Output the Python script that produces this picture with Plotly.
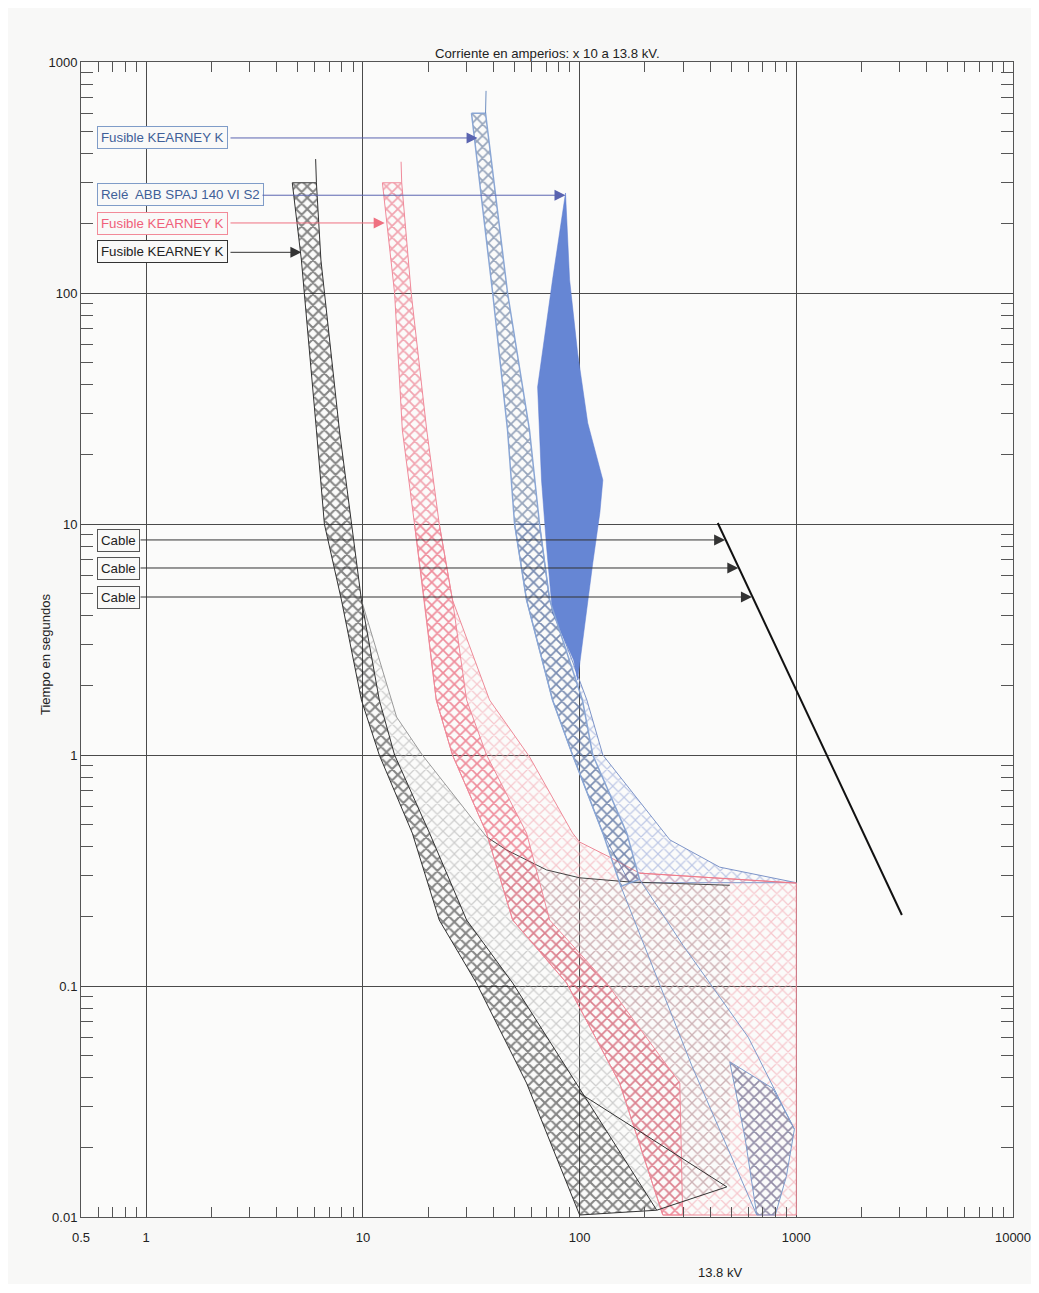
import math
import plotly.graph_objects as go

# ---------------- data (current in A x10, time in s) ----------------
# Black fuse band: minimum melting (left edge) / total clearing (right edge)
black_min_x = [4.72, 5.2, 6.1, 6.64, 7.96, 9.84, 11.9, 16.9, 22.5, 33.4, 56.9, 100]
black_min_t = [300, 139, 25.5, 10, 4.69, 1.73, 1.0, 0.459, 0.193, 0.103, 0.038, 0.0102]
black_clr_x = [6.1, 6.4, 7.79, 8.85, 9.84, 11.9, 14.0, 20.3, 30.1, 49.1, 80, 227]
black_clr_t = [300, 139, 25.5, 10, 4.69, 1.73, 1.0, 0.459, 0.193, 0.103, 0.05, 0.0107]
black_ext_x = [6.1, 6.05]
black_ext_t = [300, 380]
black_low_x = [100, 478, 227]
black_low_t = [0.0344, 0.0135, 0.0107]

# Pink fuse band
pink_min_x = [12.3, 14.0, 15.2, 17.3, 19.2, 21.8, 25.9, 37.2, 49.1, 87.1, 153, 242]
pink_min_t = [300, 100, 25.5, 10, 4.69, 1.73, 1.0, 0.459, 0.193, 0.103, 0.038, 0.0102]
pink_clr_x = [15.1, 16.7, 19.7, 22.5, 25.9, 30.1, 37.2, 56.9, 72.7, 133, 290, 299]
pink_clr_t = [300, 100, 25.5, 10, 4.69, 1.73, 1.0, 0.459, 0.193, 0.103, 0.038, 0.0102]
pink_ext_x = [15.1, 15.0]
pink_ext_t = [300, 370]

# Blue fuse band (upper part, dense)
blue_min_x = [31.7, 39.7, 46.5, 50.1, 56.9, 75, 92.8, 128, 155]
blue_min_t = [600, 100, 25.5, 10, 4.69, 1.73, 1.0, 0.459, 0.27]
blue_clr_x = [36.8, 46.5, 58.7, 65.3, 72.7, 103, 115, 165, 189]
blue_clr_t = [600, 100, 25.5, 10, 4.69, 1.73, 1.0, 0.459, 0.29]
blue_ext_x = [36.8, 37.0]
blue_ext_t = [600, 750]
# Blue fuse band continuation below 0.3 s (edges) and its dense tail
blue_low_min_x = [155, 330, 657]
blue_low_min_t = [0.27, 0.045, 0.0102]
blue_low_clr_x = [189, 300, 600, 980]
blue_low_clr_t = [0.29, 0.15, 0.06, 0.024]
blue_tail_x = [493, 780, 980, 900, 800, 657, 580]
blue_tail_t = [0.047, 0.036, 0.024, 0.015, 0.0102, 0.0102, 0.022]

# Lighter zones to the right of each fuse band
gray_top_x = [9.84, 11.9, 14.3, 18.8, 37.2, 46, 70.4, 100, 170, 493, 493]
gray_top_t = [4.69, 2.6, 1.46, 1.0, 0.442, 0.388, 0.318, 0.294, 0.282, 0.273, 0.0135]
pinkL_x = [22.5, 25.9, 38.4, 58.8, 92.8, 100, 138, 189, 1000, 1000]
pinkL_t = [10, 4.69, 1.73, 0.98, 0.459, 0.42, 0.361, 0.308, 0.279, 0.0102]
blueL_x = [65.3, 72.7, 108, 128, 261, 443, 1000, 170]
blueL_t = [10, 4.69, 1.73, 1.0, 0.429, 0.327, 0.28, 0.28]

# Relay ABB SPAJ 140 VI S2 operating zone
relay_x = [86.1, 89.9, 97.9, 109, 128, 124, 115, 103, 97.9, 93.8, 75.0, 70.4, 66.7, 64.0, 75.0]
relay_t = [271, 114, 55, 27.4, 15.5, 11.2, 6.78, 2.94, 2.11, 2.58, 4.12, 7.94, 15.5, 39.2, 114]

# Cable damage curve
cable_x = [434, 3070]
cable_t = [10.1, 0.203]

# Labels and the points their arrows reach
label_texts = ["Fusible KEARNEY K", "Relé  ABB SPAJ 140 VI S2", "Fusible KEARNEY K",
               "Fusible KEARNEY K", "Cable", "Cable", "Cable"]
label_tip_x = [33.8, 86.1, 12.6, 5.2, 469.5, 540, 624]
label_tip_t = [469, 265, 201, 150, 8.53, 6.45, 4.83]

x_ticks = [0.5, 1, 10, 100, 1000, 10000]
x_ticktext = ["0.5", "1", "10", "100", "1000", "10000"]
y_ticks = [0.01, 0.1, 1, 10, 100, 1000]
y_ticktext = ["0.01", "0.1", "1", "10", "100", "1000"]

# ---------------- layout geometry (page pixels) ----------------
BODY = 8                       # default page margin around the figure
PL, PR, PT, PB = 81, 1013, 62, 1217   # plot area on the page
W, H = 1039 - 2 * BODY, 1293 - 2 * BODY - 1
L, R = PL - BODY, BODY + W - PR
T, B = PT - BODY, BODY + H - PB
FONT = "Arial, Liberation Sans, sans-serif"


def px_paper(px):
    return (px - PL) / (PR - PL)


def py_paper(py):
    return (PB - py) / (PB - PT)


def px_logx(px):
    return math.log10(0.5) + (px - PL) / (PR - PL) * (4 - math.log10(0.5))


label_font_col = ["#3f5f98", "#3f5f98", "#f0607a", "#222222", "#222222", "#222222", "#222222"]
label_box_col = ["#7f9cc8", "#7f9cc8", "#f28a98", "#333333", "#555555", "#555555", "#555555"]
label_line_col = ["#5a64b0", "#5a64b0", "#ef7080", "#333333", "#333333", "#333333", "#333333"]
label_py = [138, 195, 223, 252, 540, 568, 597]
label_tail_px = [229, 261, 229, 229, 139, 139, 139]

fig = go.Figure()


def band(xl, tl, xr, tr):
    return xl + xr[::-1] + [xl[0]], tl + tr[::-1] + [tl[0]]


def hatched(x, y, fg, line_col, size, solid, lw=1):
    fig.add_trace(go.Scatter(
        x=x, y=y, mode="lines", fill="toself",
        fillcolor="rgba(0,0,0,0)",
        fillpattern=dict(shape="x", fgcolor=fg, bgcolor="rgba(0,0,0,0)",
                         size=size, solidity=solid),
        line=dict(color=line_col, width=lw), hoverinfo="skip", showlegend=False))


def line(x, y, col, w=1):
    fig.add_trace(go.Scatter(x=x, y=y, mode="lines", line=dict(color=col, width=w),
                             hoverinfo="skip", showlegend=False))


# light zones
hatched(blueL_x + [128, 92.8, 75, 56.9, 50.1, 65.3],
        blueL_t + [0.459, 1.0, 1.73, 4.69, 10, 10],
        "#8195d2", "#7d94c8", 8, 0.28)
hatched(pinkL_x + pink_min_x[::-1][:9],
        pinkL_t + pink_min_t[::-1][:9],
        "#f295a2", "#ee8a98", 8, 0.28)
gx = gray_top_x + [227, 80, 49.1, 30.1, 20.3, 14.0, 11.9, 9.84]
gt = gray_top_t + [0.0107, 0.05, 0.103, 0.193, 0.459, 1.0, 1.73, 4.69]
hatched(gx, gt, "#a0a0a0", "#8a8a8a", 8, 0.28, lw=0)
line(gray_top_x[0:5], gray_top_t[0:5], "#9a9a9a", 1)
line(gray_top_x[4:10], gray_top_t[4:10], "#444444", 1)
line(pinkL_x[7:9], pinkL_t[7:9], "#ee7a8a", 1)

# relay zone
fig.add_trace(go.Scatter(x=relay_x + [relay_x[0]], y=relay_t + [relay_t[0]], mode="lines",
                         fill="toself", fillcolor="#6686d4", line=dict(color="#5a7ad0", width=0.5),
                         hoverinfo="skip", showlegend=False))

# fuse bands
x, y = band(blue_min_x, blue_min_t, blue_clr_x, blue_clr_t)
hatched(x, y, "#34507e", "#8aa6d4", 8, 0.4, lw=1.5)
line(blue_low_min_x, blue_low_min_t, "#7f9ccc")
line(blue_low_clr_x, blue_low_clr_t, "#7f9ccc")
hatched(blue_tail_x + [blue_tail_x[0]], blue_tail_t + [blue_tail_t[0]], "#34507e", "#7f9ccc", 8, 0.4)
x, y = band(pink_min_x, pink_min_t, pink_clr_x, pink_clr_t)
hatched(x, y, "#e85068", "#f08a9a", 8, 0.4)
x, y = band(black_min_x, black_min_t, black_clr_x, black_clr_t)
hatched(x, y, "#111111", "#333333", 8, 0.45)
line(black_ext_x, black_ext_t, "#333333")
line(pink_ext_x, pink_ext_t, "#f08a9a")
line(blue_ext_x, blue_ext_t, "#6f8fc0")
line(black_low_x, black_low_t, "#333333")

# cable
line(cable_x, cable_t, "#111111", 2)

annotations = []
for i, txt in enumerate(label_texts):
    annotations.append(dict(
        text=txt, xref="paper", yref="paper", x=px_paper(97), y=py_paper(label_py[i]),
        xanchor="left", yanchor="middle", showarrow=False,
        font=dict(family=FONT, size=13.3, color=label_font_col[i]),
        bordercolor=label_box_col[i], borderwidth=1, borderpad=3, bgcolor="#f9f9f8"))
    annotations.append(dict(
        text="", xref="x", yref="y", axref="x", ayref="y",
        x=math.log10(label_tip_x[i]), y=math.log10(label_tip_t[i]),
        ax=px_logx(label_tail_px[i]), ay=math.log10(label_tip_t[i]),
        showarrow=True, arrowhead=2, arrowsize=2.2, arrowwidth=1,
        arrowcolor=label_line_col[i]))

annotations += [
    dict(text="Corriente en amperios: x 10 a 13.8 kV.", xref="paper", yref="paper",
         x=0.5, y=py_paper(53), xanchor="center", yanchor="middle", showarrow=False,
         font=dict(family=FONT, size=13.2, color="#222")),
    dict(text="Tiempo en segundos", xref="paper", yref="paper", x=px_paper(45),
         y=py_paper(655), textangle=-90, xanchor="center", yanchor="middle", showarrow=False,
         font=dict(family=FONT, size=13, color="#222")),
    dict(text="13.8 kV", xref="paper", yref="paper", x=px_paper(720),
         y=py_paper(1272), xanchor="center", yanchor="middle", showarrow=False,
         font=dict(family=FONT, size=13, color="#222")),
]

x_minor = [v * m for v in (0.1, 1, 10, 100, 1000) for m in range(2, 10) if 0.5 < v * m < 10000]
y_minor = [v * m for v in (0.01, 0.1, 1, 10, 100) for m in range(2, 10)]

axis_common = dict(type="log", showgrid=True, gridcolor="#4a4a4a", gridwidth=1,
                   showline=True, linecolor="#555555", linewidth=1, mirror="allticks",
                   ticks="", zeroline=False, ticklabeloverflow="allow",
                   tickfont=dict(family=FONT, size=13, color="#222"))
fig.update_layout(
    width=W, height=H, margin=dict(l=L, r=R, t=T, b=B, autoexpand=False),
    paper_bgcolor="#f8f8f7", plot_bgcolor="#fbfbfa",
    showlegend=False, annotations=annotations,
    xaxis=dict(range=[math.log10(0.5), 4], tickmode="array", tickvals=x_ticks,
               ticktext=x_ticktext, ticklabelstandoff=8,
               minor=dict(tickmode="array", tickvals=x_minor, ticks="inside", ticklen=10,
                          tickcolor="#555555", showgrid=False), **axis_common),
    yaxis=dict(range=[-2, 3], tickmode="array", tickvals=y_ticks, ticktext=y_ticktext,
               minor=dict(tickmode="array", tickvals=y_minor, ticks="inside", ticklen=12,
                          tickcolor="#555555", showgrid=False), **axis_common),
)

fig.write_html("out.html")
